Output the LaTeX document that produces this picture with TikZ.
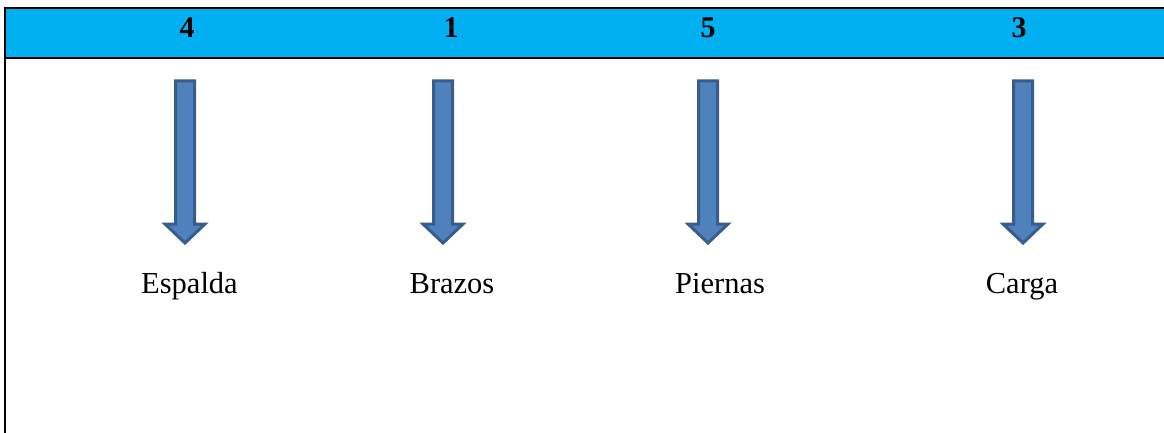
\documentclass[tikz,border=0pt]{standalone}
\usepackage{fontspec}
\setmainfont{Liberation Serif}
\definecolor{band}{HTML}{00B0F0}
\definecolor{arrfill}{HTML}{4F81BD}
\definecolor{arrline}{HTML}{385D8A}
\begin{document}
\begin{tikzpicture}[x=1pt,y=-1pt,
  numtxt/.style={font=\fontsize{30}{34}\selectfont\bfseries, inner sep=0pt},
  labtxt/.style={font=\fontsize{30.5}{34}\selectfont, anchor=base, inner sep=0pt},
  fatarrow/.style={fill=arrfill, draw=arrline, line width=3pt, line join=miter}]
\useasboundingbox (0,0) rectangle (1164,433);
\fill[band] (5,8) rectangle (1164,58);
\draw[line width=2.6pt] (5,434) -- (5,8) -- (1164,8);
\draw[line width=2.6pt] (5,58) -- (1164,58);
% numbers
\node[numtxt] (n4) at (187,27.5) {4};
\node[numtxt] (n1) at (451,27.5) {1};
\node[numtxt] (n5) at (708,27.5) {5};
\node[numtxt] (n3) at (1019,27.5) {3};
% labels
\node[labtxt] (l1) at (189.5,293) {Espalda};
\node[labtxt] (l2) at (452,293) {Brazos};
\node[labtxt] (l3) at (720,293) {Piernas};
\node[labtxt] (l4) at (1022,293) {Carga};
% arrows
\foreach \c in {185,443,708,1023}{
  \draw[fatarrow] (\c-9.5,81) -- (\c+9.5,81) -- (\c+9.5,224) -- (\c+20,224)
     -- (\c,243) -- (\c-20,224) -- (\c-9.5,224) -- cycle;
}
\end{tikzpicture}
\end{document}
